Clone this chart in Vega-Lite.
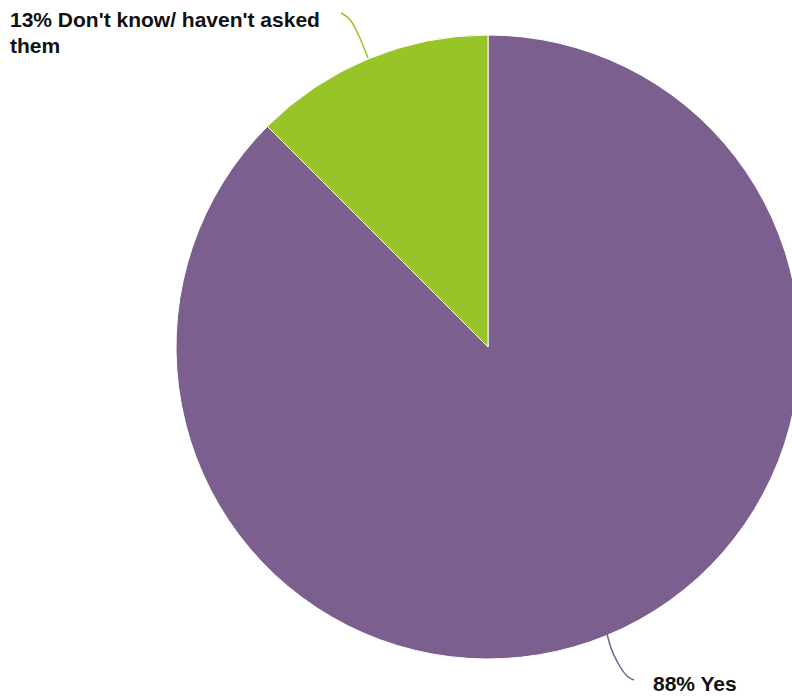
{
  "$schema": "https://vega.github.io/schema/vega-lite/v6.json",
  "width": 976,
  "height": 694,
  "padding": 0,
  "autosize": {"type": "none"},
  "background": "white",
  "config": {"view": {"stroke": null}},
  "layer": [
    {
      "data": {"values": [
        {"answer": "Yes", "pct": 87.5, "ord": 1},
        {"answer": "Don't know/ haven't asked them", "pct": 12.5, "ord": 2}
      ]},
      "mark": {"type": "arc", "outerRadius": 312, "stroke": "white", "strokeWidth": 1},
      "encoding": {
        "theta": {"field": "pct", "type": "quantitative", "stack": true},
        "order": {"field": "ord", "type": "quantitative"},
        "color": {"field": "answer", "type": "nominal", "legend": null,
          "scale": {"domain": ["Yes", "Don't know/ haven't asked them"], "range": ["#7B5F8E", "#97C527"]}}
      }
    },
    {
      "data": {"values": [
        {"series": "Don't know", "px": 341, "py": 13, "k": 1},
        {"series": "Don't know", "px": 351, "py": 21, "k": 2},
        {"series": "Don't know", "px": 359, "py": 36, "k": 3},
        {"series": "Don't know", "px": 368, "py": 58, "k": 4},
        {"series": "Yes", "px": 607, "py": 634, "k": 1},
        {"series": "Yes", "px": 611, "py": 648, "k": 2},
        {"series": "Yes", "px": 618, "py": 663, "k": 3},
        {"series": "Yes", "px": 627, "py": 676, "k": 4},
        {"series": "Yes", "px": 634, "py": 680, "k": 5}
      ]},
      "mark": {"type": "line", "interpolate": "monotone", "strokeWidth": 1.5},
      "encoding": {
        "x": {"field": "px", "type": "quantitative", "axis": null, "scale": {"domain": [0, 976], "nice": false, "zero": false}},
        "y": {"field": "py", "type": "quantitative", "axis": null, "scale": {"domain": [0, 694], "nice": false, "zero": false, "reverse": true}},
        "detail": {"field": "series"},
        "order": {"field": "k"},
        "color": {"field": "series", "type": "nominal", "legend": null,
          "scale": {"domain": ["Yes", "Don't know"], "range": ["#7B5F8E", "#97C527"]}}
      }
    },
    {
      "data": {"values": [
        {"label": "13% Don't know/ haven't asked", "px": 10, "py": 27},
        {"label": "them", "px": 10, "py": 53},
        {"label": "88% Yes", "px": 653, "py": 691}
      ]},
      "mark": {"type": "text", "align": "left", "baseline": "alphabetic", "font": "Liberation Sans", "fontWeight": "bold", "fontSize": 21, "color": "#111111"},
      "encoding": {
        "x": {"field": "px", "type": "quantitative", "axis": null, "scale": {"domain": [0, 976], "nice": false, "zero": false}},
        "y": {"field": "py", "type": "quantitative", "axis": null, "scale": {"domain": [0, 694], "nice": false, "zero": false, "reverse": true}},
        "text": {"field": "label"}
      }
    }
  ],
  "resolve": {"scale": {"color": "independent"}}
}
